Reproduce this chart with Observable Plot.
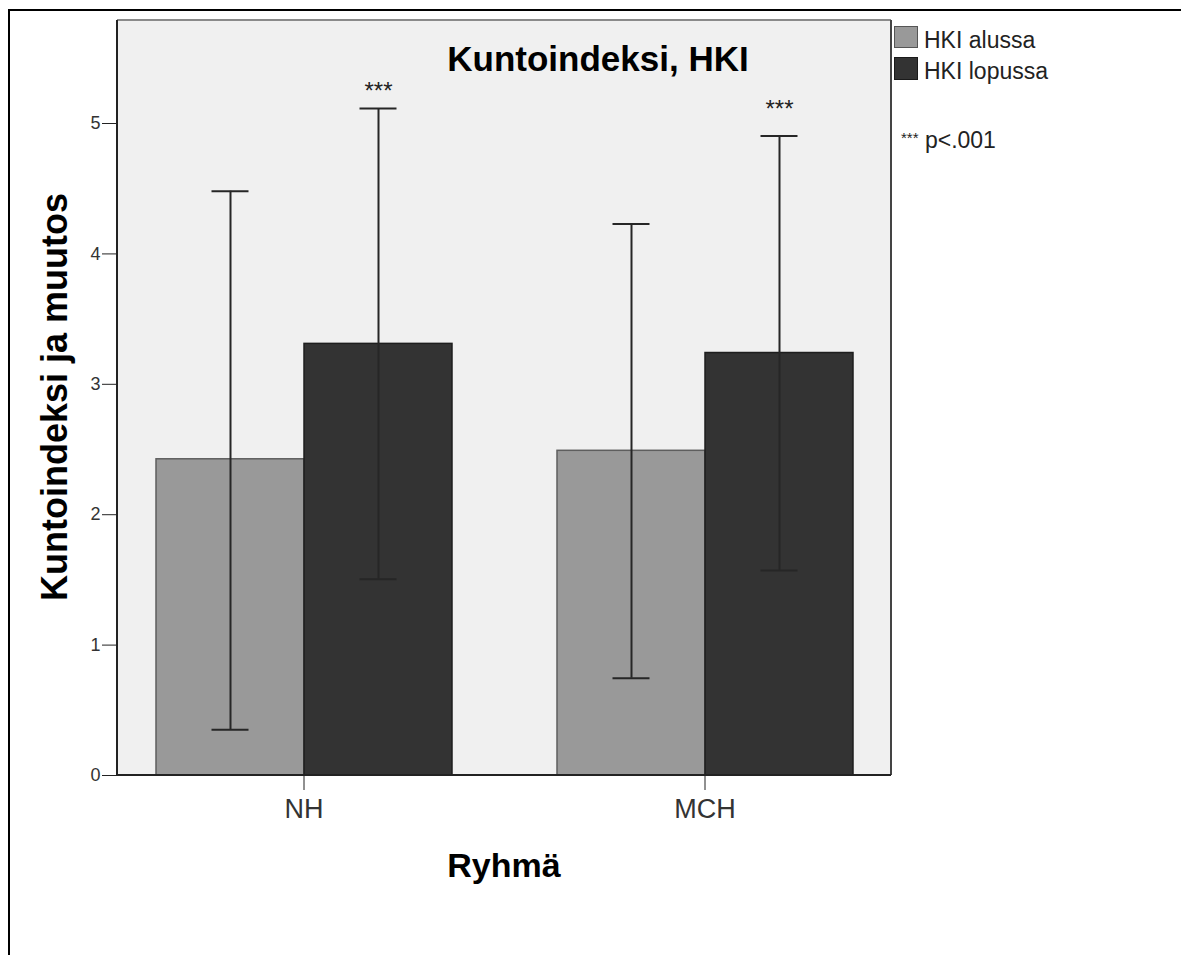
<!DOCTYPE html>
<html><head><meta charset="utf-8">
<script src="https://cdn.jsdelivr.net/npm/d3@7"></script>
<script src="https://cdn.jsdelivr.net/npm/@observablehq/plot@0.6"></script>
<style>
html,body{margin:0;padding:0;background:#fff;}
#wrap{position:relative;width:1181px;height:955px;overflow:hidden;font-family:"Liberation Sans",Arial,sans-serif;color:#111;}
#wrap svg{position:absolute;left:0;top:0;}
.abs{position:absolute;white-space:nowrap;line-height:1;}
.frame{position:absolute;left:8px;top:9px;width:1300px;height:1100px;border-left:2px solid #000;border-top:2px solid #000;box-sizing:border-box;}
.sw{position:absolute;box-sizing:border-box;}
</style></head><body><div id="wrap"></div>
<script>
// ---- data ----
const groups = ["NH", "MCH"];
const seriesNames = ["HKI alussa", "HKI lopussa"];
const barGroup = ["NH", "NH", "MCH", "MCH"];
const barSeries = ["HKI alussa", "HKI lopussa", "HKI alussa", "HKI lopussa"];
const barMean = [2.425, 3.31, 2.49, 3.24];
const ciLower = [0.35, 1.505, 0.745, 1.572];
const ciUpper = [4.48, 5.115, 4.23, 4.905];
const sigGroup = ["NH", "MCH"];
const sigSeries = ["HKI lopussa", "HKI lopussa"];
const sigY = [5.25, 5.11];
const sigText = ["***", "***"];
const yTicks = [0, 1, 2, 3, 4, 5];
const seriesColors = ["#999999", "#333333"];

const rows = barGroup.map((g, i) => ({group: g, series: barSeries[i], mean: barMean[i], lo: ciLower[i], hi: ciUpper[i]}));
const sig = sigGroup.map((g, i) => ({group: g, series: sigSeries[i], y: sigY[i], text: sigText[i]}));

const plot = Plot.plot({
  width: 1181, height: 955,
  marginLeft: 117, marginRight: 290, marginTop: 20, marginBottom: 180,
  style: {fontFamily: '"Liberation Sans", Arial, sans-serif', color: "#222", background: "transparent", overflow: "visible"},
  fx: {domain: groups, paddingInner: 0.07, paddingOuter: 0},
  x: {domain: seriesNames, paddingInner: 0, paddingOuter: 0.256, axis: null},
  y: {domain: [0, 5.79], axis: null},
  color: {domain: seriesNames, range: seriesColors},
  marks: [
    Plot.barY(rows.filter(d => d.series === seriesNames[0]), {fx: "group", x: "series", y: "mean", fill: "series", stroke: "#5e5e5e", strokeWidth: 1.5}),
    Plot.barY(rows.filter(d => d.series === seriesNames[1]), {fx: "group", x: "series", y: "mean", fill: "series", stroke: "#1e1e1e", strokeWidth: 1.5}),
    Plot.ruleX(rows, {fx: "group", x: "series", y1: "lo", y2: "hi", stroke: "#262626", strokeWidth: 2}),
    Plot.tickY(rows, {fx: "group", x: "series", y: "lo", stroke: "#262626", strokeWidth: 2, insetLeft: 55.5, insetRight: 55.5}),
    Plot.tickY(rows, {fx: "group", x: "series", y: "hi", stroke: "#262626", strokeWidth: 2, insetLeft: 55.5, insetRight: 55.5}),
    Plot.text(sig, {fx: "group", x: "series", y: "y", text: "text", fontSize: 24, fill: "#222"}),
    Plot.axisY({ticks: yTicks, tickFormat: d3.format("d"), tickSize: 15, tickPadding: 2, fontSize: 18, label: null, stroke: "#222", fill: "#333"}),
    Plot.axisFx({anchor: "bottom", tickSize: 15, tickPadding: 8, fontSize: 27, label: null, fill: "#333"})
  ]
});

const wrap = document.getElementById("wrap");
wrap.appendChild(plot);

// plot-area background and border, from the library's scales
const svg = d3.select(plot);
let fxr = [117, 891], yr = [775, 20];
try { const s = plot.scale("fx"); if (s && s.range) fxr = s.range; } catch (e) {}
try { const s = plot.scale("y"); if (s && s.range) yr = s.range; } catch (e) {}
const L = Math.min(...fxr), R = Math.max(...fxr), B = Math.max(...yr), T = Math.min(...yr);
svg.insert("rect", ":first-child").attr("x", L).attr("y", T).attr("width", R - L).attr("height", B - T).attr("fill", "#f0f0f0");
const border = svg.append("g").attr("stroke-width", 2).attr("fill", "none");
border.append("line").attr("x1", L).attr("x2", R).attr("y1", T).attr("y2", T).attr("stroke", "#8a8a8a");
border.append("line").attr("x1", R).attr("x2", R).attr("y1", T).attr("y2", B).attr("stroke", "#444");
border.append("line").attr("x1", L).attr("x2", L).attr("y1", T).attr("y2", B).attr("stroke", "#222");
border.append("line").attr("x1", L).attr("x2", R).attr("y1", B).attr("y2", B).attr("stroke", "#222");

// texts, legend and outer frame
function addDiv(cls, style, html) {
  const d = document.createElement("div");
  d.className = cls; d.setAttribute("style", style); d.innerHTML = html || "";
  wrap.appendChild(d); return d;
}
addDiv("frame", "");
addDiv("abs", "left:598px;top:41px;transform:translateX(-50%);font-size:35px;font-weight:bold;color:#000;", "Kuntoindeksi, HKI");
addDiv("abs", "left:504px;top:848px;transform:translateX(-50%);font-size:34px;font-weight:bold;color:#000;", "Ryhmä");
addDiv("abs", "left:54.5px;top:397px;transform:translate(-50%,-50%) rotate(-90deg);font-size:36px;font-weight:bold;color:#000;", "Kuntoindeksi ja muutos");
addDiv("sw", `left:894px;top:26px;width:24px;height:22px;background:${seriesColors[0]};border:1.5px solid #555;`);
addDiv("sw", `left:894px;top:57px;width:24px;height:23px;background:${seriesColors[1]};border:1.5px solid #1a1a1a;`);
addDiv("abs", "left:924px;top:28.5px;font-size:23px;color:#222;", seriesNames[0]);
addDiv("abs", "left:924px;top:59.5px;font-size:23px;color:#222;", seriesNames[1]);
addDiv("abs", "left:901px;top:128.5px;font-size:23px;color:#222;", '<span style="font-size:15px;position:relative;top:-5px;">***</span> p&lt;.001');
</script></body></html>
